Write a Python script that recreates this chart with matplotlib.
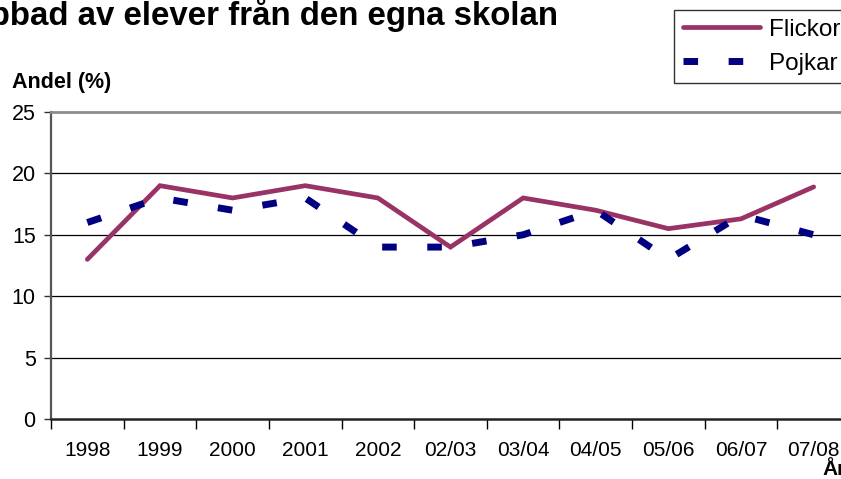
import matplotlib.pyplot as plt
import numpy as np
from matplotlib.ticker import FixedLocator, NullFormatter

plt.rcParams['font.family'] = ['Liberation Sans', 'DejaVu Sans']

years = ['1998', '1999', '2000', '2001', '2002', '02/03', '03/04',
         '04/05', '05/06', '06/07', '07/08']
flickor = [13, 19, 18, 19, 18, 14, 18, 17, 15.5, 16.3, 18.9]
pojkar = [16, 18, 17, 18, 14, 14, 15, 17, 13, 16.6, 15]

W, H = 841, 479
fig = plt.figure(figsize=(W / 100, H / 100), dpi=100)

# plot area runs past the right edge of the picture, like the original
ax = fig.add_axes([51 / W, 60 / H, 799 / W, 307 / H])
x = np.arange(len(years))

ax.plot(x, flickor, color='#993366', lw=3.4, solid_capstyle='round',
        solid_joinstyle='miter', label='Flickor', zorder=3)
ax.plot(x, pojkar, color='#000080', lw=5, dashes=(2.1, 4.4),
        dash_capstyle='butt', label='Pojkar', zorder=3)

ax.set_xlim(-0.5, len(years) - 0.5)
ax.set_ylim(0, 25)
ax.set_yticks([0, 5, 10, 15, 20, 25])
ax.tick_params(axis='y', labelsize=15.5, length=5, width=1, pad=6,
               color='#333333')
for y in [5, 10, 15, 20]:
    ax.axhline(y, color='black', lw=0.9, zorder=1)

ax.set_xticks(x)
ax.set_xticklabels(years)
ax.tick_params(axis='x', which='major', length=0, labelsize=15, pad=16)
ax.xaxis.set_minor_locator(FixedLocator(np.arange(-0.5, len(years), 1)))
ax.xaxis.set_minor_formatter(NullFormatter())
ax.tick_params(axis='x', which='minor', length=7, width=1, color='black')

ax.spines['right'].set_visible(False)
ax.spines['top'].set_color('#8c8c8c')
ax.spines['top'].set_linewidth(2)
ax.spines['left'].set_color('#555555')
ax.spines['left'].set_linewidth(1.6)
ax.spines['bottom'].set_color('#222222')
ax.spines['bottom'].set_linewidth(1.8)

fig.text(558 / W, 1 - 25 / H, 'Mobbad av elever från den egna skolan',
         ha='right', va='baseline', fontsize=23.8, fontweight='bold')
fig.text(12 / W, 1 - 88 / H, 'Andel (%)', ha='left', va='baseline',
         fontsize=15.5, fontweight='bold')
fig.text(822 / W, 1 - 475 / H, 'År', ha='left', va='baseline',
         fontsize=15, fontweight='bold')

leg = fig.legend(loc='upper left', bbox_to_anchor=(674 / W, 1 - 10 / H),
                 fontsize=17.5, frameon=True, fancybox=False,
                 handlelength=3.2, handletextpad=0.35, borderpad=0.35,
                 labelspacing=0.5, borderaxespad=0)
leg.get_frame().set_edgecolor('black')
leg.get_frame().set_linewidth(1)

fig.savefig('out.png', dpi=100)
